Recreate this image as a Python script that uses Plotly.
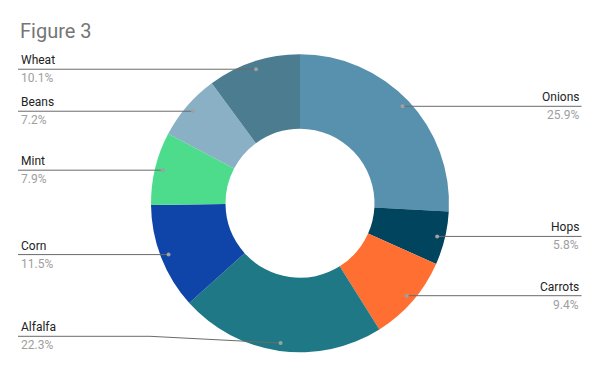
import math
import plotly.graph_objects as go

categories = ["Onions", "Hops", "Carrots", "Alfalfa", "Corn", "Mint", "Beans", "Wheat"]
values = [25.9, 5.8, 9.4, 22.3, 11.5, 7.9, 7.2, 10.1]
pct_labels = ["25.9%", "5.8%", "9.4%", "22.3%", "11.5%", "7.9%", "7.2%", "10.1%"]
colors = ["#5891AD", "#00445E", "#FF6F31", "#1F7886", "#0F45A8", "#4CDC8B", "#89B0C4", "#4B7C90"]

W, H = 600, 371
CX, CY, R = 300.0, 203.3, 149.0
DOT_R = 0.947 * R
LEFT_X, RIGHT_X = 18.0, 581.5
LEFT_BEND, RIGHT_BEND = 150.0, 450.0
LABEL_Y_MAX = 336.3
LINE_COLOR = "#6b6b6b"
DOT_COLOR = "#a0a0a0"
FONT = "Roboto"

fig = go.Figure()
fig.add_trace(go.Pie(
    labels=categories, values=values,
    marker=dict(colors=colors, line=dict(width=0)),
    hole=0.5, sort=False, direction="clockwise", rotation=0,
    textinfo="none", hoverinfo="label+percent", showlegend=False,
    domain=dict(x=[(CX - R) / W, (CX + R) / W], y=[1 - (CY + R) / H, 1 - (CY - R) / H]),
))

shapes = []
annotations = []
total = sum(values)
cum = 0.0
for name, v, pl in zip(categories, values, pct_labels):
    mid = (cum + v / 2) / total
    cum += v
    th = 2 * math.pi * mid
    dx = CX + DOT_R * math.sin(th)
    dy = CY - DOT_R * math.cos(th)
    ly = min(dy, LABEL_Y_MAX)
    right = math.sin(th) >= 0
    if right:
        path = f"M {RIGHT_X} {ly} L {max(RIGHT_BEND, dx)} {ly} L {dx} {dy}"
        tx, anchor = RIGHT_X - 1, "right"
    else:
        path = f"M {LEFT_X} {ly} L {min(LEFT_BEND, dx)} {ly} L {dx} {dy}"
        tx, anchor = LEFT_X + 1, "left"
    shapes.append(dict(type="path", path=path, xref="x", yref="y",
                       line=dict(color=LINE_COLOR, width=1), layer="above"))
    shapes.append(dict(type="circle", xref="x", yref="y",
                       x0=dx - 2, x1=dx + 2, y0=dy - 2, y1=dy + 2,
                       fillcolor=DOT_COLOR, line=dict(width=0), layer="above"))
    annotations.append(dict(x=tx, y=ly - 9, xref="x", yref="y", text=name,
                            showarrow=False, xanchor=anchor, yanchor="middle",
                            font=dict(family=FONT, size=12, color="#222222")))
    annotations.append(dict(x=tx, y=ly + 9, xref="x", yref="y", text=pl,
                            showarrow=False, xanchor=anchor, yanchor="middle",
                            font=dict(family=FONT, size=12, color="#9e9e9e")))

annotations.append(dict(x=18, y=31, xref="x", yref="y", text="Figure 3",
                        showarrow=False, xanchor="left", yanchor="middle",
                        font=dict(family=FONT, size=20, color="#757575")))

fig.update_layout(
    width=W, height=H, margin=dict(l=0, r=0, t=0, b=0),
    paper_bgcolor="white", plot_bgcolor="white",
    xaxis=dict(range=[0, W], visible=False, fixedrange=True),
    yaxis=dict(range=[H, 0], visible=False, fixedrange=True),
    shapes=shapes, annotations=annotations, showlegend=False,
)
fig.write_html("out.html")
